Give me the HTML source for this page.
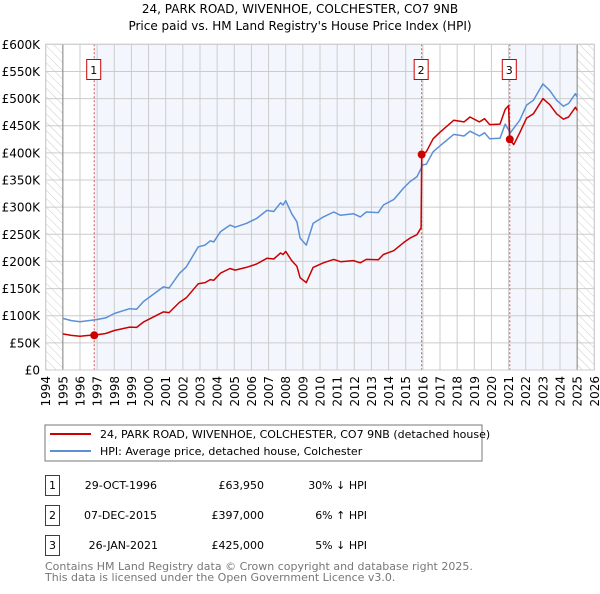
<!DOCTYPE html>
<html><head><meta charset="utf-8"><style>
body{margin:0;background:#fff;width:600px;height:590px;overflow:hidden;font-family:"DejaVu Sans","Liberation Sans",sans-serif}
svg text{font-family:"DejaVu Sans","Liberation Sans",sans-serif}
</style></head><body>
<svg id="c" width="600" height="590">
<defs><pattern id="hatch" width="6" height="6" patternUnits="userSpaceOnUse" patternTransform="rotate(-45)"><line x1="0" y1="0" x2="0" y2="6" stroke="#ccc" stroke-width="1"/></pattern></defs>
<text x="300" y="13" text-anchor="middle" font-size="12">24, PARK ROAD, WIVENHOE, COLCHESTER, CO7 9NB</text>
<text x="300" y="30" text-anchor="middle" font-size="12">Price paid vs. HM Land Registry's House Price Index (HPI)</text>
<g id="plot"></g>
<rect x="45" y="425" width="437" height="36" fill="#fff" stroke="#777"/>
<line x1="50" y1="434" x2="91" y2="434" stroke="#cc0000" stroke-width="2"/>
<text x="100" y="438" font-size="11">24, PARK ROAD, WIVENHOE, COLCHESTER, CO7 9NB (detached house)</text>
<line x1="50" y1="451" x2="91" y2="451" stroke="#5b8fd6" stroke-width="2"/>
<text x="100" y="455" font-size="11">HPI: Average price, detached house, Colchester</text>
<g font-size="11">
<rect x="45.5" y="475.5" width="14" height="20" fill="#fff" stroke="#cc0000"/><text x="52.5" y="489" text-anchor="middle">1</text>
<text x="157" y="489" text-anchor="end">29-OCT-1996</text>
<text x="264" y="489" text-anchor="end">£63,950</text>
<text x="367" y="489" text-anchor="end">30% ↓ HPI</text>
<rect x="45.5" y="505.5" width="14" height="20" fill="#fff" stroke="#cc0000"/><text x="52.5" y="519" text-anchor="middle">2</text>
<text x="157" y="519" text-anchor="end">07-DEC-2015</text>
<text x="264" y="519" text-anchor="end">£397,000</text>
<text x="367" y="519" text-anchor="end">6% ↑ HPI</text>
<rect x="45.5" y="535.5" width="14" height="20" fill="#fff" stroke="#cc0000"/><text x="52.5" y="549" text-anchor="middle">3</text>
<text x="158" y="549" text-anchor="end">26-JAN-2021</text>
<text x="264" y="549" text-anchor="end">£425,000</text>
<text x="367" y="549" text-anchor="end">5% ↓ HPI</text>
</g>
<text x="45" y="570" font-size="11" fill="#777">Contains HM Land Registry data © Crown copyright and database right 2025.</text>
<text x="45" y="581" font-size="11" fill="#777">This data is licensed under the Open Government Licence v3.0.</text>
</svg>
<script>
const hpiYears=[1995.0,1995.5,1996.0,1996.5,1997.0,1997.5,1998.0,1998.5,1998.9,1999.3,1999.7,2000.3,2000.86,2001.2,2001.8,2002.2,2002.9,2003.3,2003.6,2003.8,2004.2,2004.75,2005.05,2005.7,2006.3,2006.9,2007.3,2007.7,2007.85,2008.0,2008.35,2008.65,2008.84,2009.2,2009.6,2010.2,2010.8,2011.2,2011.95,2012.35,2012.7,2013.4,2013.7,2014.3,2014.9,2015.25,2015.65,2016.0,2016.2,2016.6,2017.0,2017.8,2018.4,2018.75,2019.3,2019.6,2019.9,2020.5,2020.8,2021.1,2021.65,2022.05,2022.45,2023.0,2023.4,2023.8,2024.2,2024.5,2024.9,2025.0];
const hpiValues=[95,91,89,91,93,96,104,109,113,112,126,140,153,151,178,190,227,230,238,236,255,267,263,270,279,294,292,308,304,312,288,273,243,230,270,282,291,285,288,282,291,290,304,314,336,347,356,378,379,402,413,434,431,440,431,437,426,427,453,437,460,488,497,527,515,497,486,491,509,503];
const redYears=[1995.0,1995.5,1996.0,1996.5,1996.83,1997.0,1997.5,1998.0,1998.5,1998.9,1999.3,1999.7,2000.3,2000.86,2001.2,2001.8,2002.2,2002.9,2003.3,2003.6,2003.8,2004.2,2004.75,2005.05,2005.7,2006.3,2006.9,2007.3,2007.7,2007.85,2008.0,2008.35,2008.65,2008.84,2009.2,2009.6,2010.2,2010.8,2011.2,2011.95,2012.35,2012.7,2013.4,2013.7,2014.3,2014.9,2015.25,2015.65,2015.9,2015.93,2016.2,2016.6,2017.0,2017.8,2018.4,2018.75,2019.3,2019.6,2019.9,2020.5,2020.8,2021.0,2021.07,2021.3,2021.65,2022.05,2022.45,2023.0,2023.4,2023.8,2024.2,2024.5,2024.9,2025.0];
const redValues=[66.5,63.7,62.3,63.7,63.95,65.1,67.2,72.8,76.3,79.1,78.4,88.2,98,107.1,105.7,124.6,133,158.9,161,166.6,165.2,178.5,186.9,184.1,189,195.3,205.8,204.4,215.6,212.8,218.4,201.6,191.1,170.1,161,189,197.4,203.7,199.5,201.6,197.4,203.7,203,212.8,219.8,235.2,242.9,249.2,262,397,402,426,438,460,457,466,457,463,452,453,480,487,425,415,437,464,472,500,489,472,462,466,484,478];
const saleYears=[1996.83,2015.93,2021.07];
const salePrices=[63.95,397,425];
const saleLabels=["1","2","3"];
const yTicks=[0,50,100,150,200,250,300,350,400,450,500,550,600];
const yTickLabels=["£0","£50K","£100K","£150K","£200K","£250K","£300K","£350K","£400K","£450K","£500K","£550K","£600K"];
const xTicks=[1994,1995,1996,1997,1998,1999,2000,2001,2002,2003,2004,2005,2006,2007,2008,2009,2010,2011,2012,2013,2014,2015,2016,2017,2018,2019,2020,2021,2022,2023,2024,2025,2026];

const NS="http://www.w3.org/2000/svg";
const L=45.7,R=594.3,T=44.3,B=370;
const xs=y=>L+(y-1994)/32*(R-L);
const ys=v=>B-v/600*(B-T);
const g=document.getElementById('plot');
function mk(tag,attrs,parent){const e=document.createElementNS(NS,tag);for(const k in attrs)e.setAttribute(k,attrs[k]);(parent||g).appendChild(e);return e;}
let e;
// background bands
e=mk('rect',{x:L,y:T,width:R-L,height:B-T,fill:'#fff'});


const bands=[[saleYears[0],saleYears[1]],[saleYears[2],2025]];
bands.forEach((b,i)=>{e=mk('rect',{x:xs(b[0]),y:T,width:xs(b[1])-xs(b[0]),height:B-T,fill:'#eef3fc',opacity:0.7});

});
e=mk('rect',{x:L,y:T,width:xs(1995)-L,height:B-T,fill:'url(#hatch)'});


e=mk('rect',{x:xs(2025),y:T,width:R-xs(2025),height:B-T,fill:'url(#hatch)'});


// grid
yTicks.forEach((v,i)=>{e=mk('line',{x1:L,x2:R,y1:ys(v),y2:ys(v),stroke:'#ccc','stroke-width':1});


e=mk('text',{x:40,y:ys(v)+4.5,'text-anchor':'end','font-size':12});e.textContent=yTickLabels[i];

});
xTicks.forEach(t=>{e=mk('line',{x1:xs(t),x2:xs(t),y1:T,y2:B,stroke:'#ccc','stroke-width':1});


e=mk('text',{x:0,y:0,'text-anchor':'end','font-size':12,transform:`translate(${xs(t)+4.5},${B+6}) rotate(-90)`});e.textContent=t;

});
[1995,2025].forEach(t=>{e=mk('line',{x1:xs(t),x2:xs(t),y1:T,y2:B,stroke:'#888','stroke-width':1});

});
// sale lines
saleYears.forEach((s,i)=>{e=mk('line',{x1:xs(s),x2:xs(s),y1:T,y2:B,stroke:'#e05050','stroke-width':1,'stroke-dasharray':'2,2'});


e=mk('rect',{x:xs(s)-7.5,y:59.5,width:14,height:20,fill:'#fff',stroke:'#cc0000'});


e=mk('text',{x:xs(s)-0.5,y:74,'text-anchor':'middle','font-size':11});e.textContent=saleLabels[i];

});
// series
const pts=(xa,va)=>xa.map((x,i)=>xs(x).toFixed(1)+','+ys(va[i]).toFixed(1)).join(' ');
e=mk('polyline',{points:pts(hpiYears,hpiValues),fill:'none',stroke:'#5b8fd6','stroke-width':1.5,'stroke-linejoin':'round'});


e=mk('polyline',{points:pts(redYears,redValues),fill:'none',stroke:'#cc0000','stroke-width':1.5,'stroke-linejoin':'round'});


saleYears.forEach((s,i)=>{e=mk('circle',{cx:xs(s),cy:ys(salePrices[i]),r:4,fill:'#cc0000'});

});
e=mk('rect',{x:L,y:T,width:R-L,height:B-T,fill:'none',stroke:'#ccc'});


</script>
</body></html>
